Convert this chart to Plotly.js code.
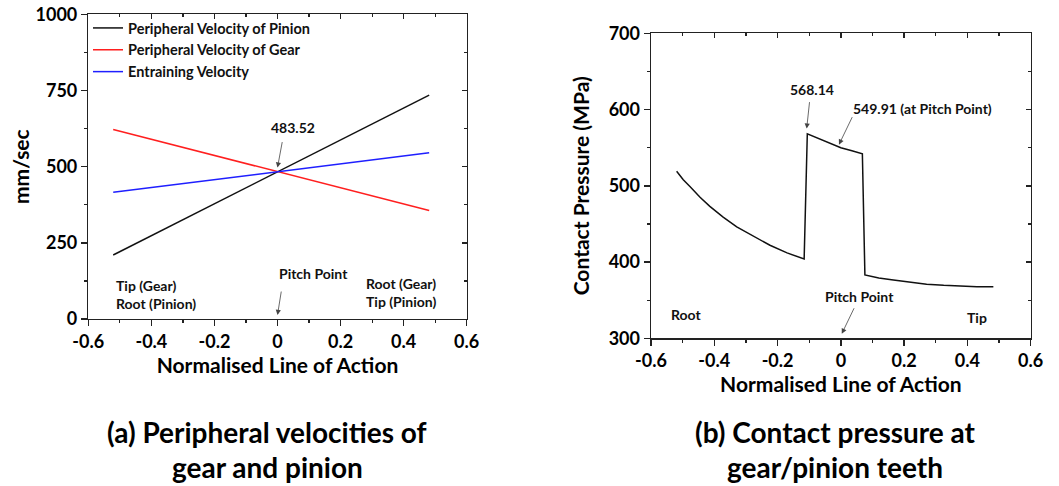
<!DOCTYPE html>
<html>
<head>
<meta charset="utf-8">
<script src="https://cdn.plot.ly/plotly-3.0.1.min.js"></script>
<style>html,body{margin:0;padding:0;background:#fff;}#chart{width:1059px;height:486px;}</style>
</head>
<body>
<div id="chart"></div>
<script>
// ---- Data: (a) peripheral velocities ----
const lineOfAction = [-0.521, 0, 0.481];
const pinionVelocity = [210, 483.52, 735];
const gearVelocity = [622, 483.52, 356];
const entrainingVelocity = [416, 483.52, 545.5];

// ---- Data: (b) contact pressure ----
const pressureX = [-0.519, -0.498, -0.477, -0.445, -0.414, -0.372, -0.329, -0.277, -0.224, -0.170, -0.119, -0.116, -0.106, -0.05, 0, 0.035, 0.068, 0.076, 0.12, 0.166, 0.22, 0.271, 0.325, 0.377, 0.43, 0.482];
const pressureY = [519, 508, 499, 485, 473, 459, 446, 434, 422, 412, 405, 404, 568.14, 558, 549.91, 546, 542, 383, 379, 376.5, 373.5, 371, 369.5, 368.5, 367.7, 367.5];

// ---- Tick labels ----
const xTickVals = [-0.6, -0.4, -0.2, 0, 0.2, 0.4, 0.6];
const xTickText = ["-0.6", "-0.4", "-0.2", "0", "0.2", "0.4", "0.6"];
const yTickValsA = [0, 250, 500, 750, 1000];
const yTickTextA = ["0", "250", "500", "750", "1000"];
const yTickValsB = [300, 400, 500, 600, 700];
const yTickTextB = ["300", "400", "500", "600", "700"];

const FONT = "Lato, 'Open Sans', sans-serif";
const W = 1059, H = 486;
const px = v => v / W;
const py = v => 1 - v / H;

const axisCommon = {
  showline: true, linecolor: '#222', linewidth: 1.4, mirror: false,
  showgrid: false, zeroline: false, tickcolor: '#222', tickwidth: 1.4,
  tickfont: {family: FONT, size: 18, color: '#000', weight: 700}
};

const traces = [
  {x: lineOfAction, y: pinionVelocity, type: 'scatter', mode: 'lines', name: 'Peripheral Velocity of Pinion',
   line: {color: '#111', width: 1.5}, xaxis: 'x', yaxis: 'y'},
  {x: lineOfAction, y: gearVelocity, type: 'scatter', mode: 'lines', name: 'Peripheral Velocity of Gear',
   line: {color: '#ff1f1f', width: 1.5}, xaxis: 'x', yaxis: 'y'},
  {x: lineOfAction, y: entrainingVelocity, type: 'scatter', mode: 'lines', name: 'Entraining Velocity',
   line: {color: '#1f1fff', width: 1.5}, xaxis: 'x', yaxis: 'y'},
  {x: pressureX, y: pressureY, type: 'scatter', mode: 'lines', name: 'Contact Pressure', showlegend: false,
   line: {color: '#111', width: 1.5}, xaxis: 'x3', yaxis: 'y3'},
  // empty traces so the mirrored (top/right) frame axes get drawn
  {x: [], y: [], type: 'scatter', mode: 'lines', showlegend: false, hoverinfo: 'skip', xaxis: 'x2', yaxis: 'y2'},
  {x: [], y: [], type: 'scatter', mode: 'lines', showlegend: false, hoverinfo: 'skip', xaxis: 'x4', yaxis: 'y4'}
];

const xDomA = [px(88.3), px(466.7)];
const yDomA = [py(319), py(14.3)];
const xDomB = [px(651), px(1030.7)];
const yDomB = [py(338.3), py(33.3)];

function mainX(domain, anchor, standoff) {
  return Object.assign({}, axisCommon, {
    domain: domain, anchor: anchor, range: [-0.6, 0.6], ticks: 'outside', ticklen: 6,
    tickvals: xTickVals, ticktext: xTickText,
    minor: {ticks: 'outside', dtick: 0.1, tick0: 0, ticklen: 3, tickcolor: '#222', tickwidth: 1.2},
    title: {text: 'Normalised Line of Action', font: {family: FONT, size: 21, color: '#000', weight: 700}, standoff: standoff}
  });
}
function topX(over, anchor) {
  return Object.assign({}, axisCommon, {
    overlaying: over, anchor: anchor, side: 'top', range: [-0.6, 0.6], ticks: 'inside', ticklen: 5,
    tickvals: xTickVals, showticklabels: false,
    minor: {ticks: 'inside', dtick: 0.1, tick0: 0, ticklen: 3, tickcolor: '#222', tickwidth: 1.2}
  });
}
function mainY(domain, anchor, range, vals, text, minorD, title, standoff) {
  return Object.assign({}, axisCommon, {
    domain: domain, anchor: anchor, range: range, ticks: 'outside', ticklen: 6,
    tickvals: vals, ticktext: text,
    minor: {ticks: 'outside', dtick: minorD, tick0: range[0], ticklen: 3, tickcolor: '#222', tickwidth: 1.2},
    title: {text: title, font: {family: FONT, size: 21, color: '#000', weight: 700}, standoff: standoff}
  });
}
function rightY(over, anchor, range, vals, minorD) {
  return Object.assign({}, axisCommon, {
    overlaying: over, anchor: anchor, side: 'right', range: range, ticks: 'inside', ticklen: 5,
    tickvals: vals, showticklabels: false,
    minor: {ticks: 'inside', dtick: minorD, tick0: range[0], ticklen: 3, tickcolor: '#222', tickwidth: 1.2}
  });
}

const annFont = {family: FONT, size: 14, color: '#111', weight: 700};
function txt(xref, yref, x, y, text, extra) {
  return Object.assign({xref: xref, yref: yref, x: x, y: y, text: text, showarrow: false, font: annFont,
                        xanchor: 'center', yanchor: 'middle'}, extra || {});
}
function arrow(xref, yref, x, y, ax, ay) {
  return {xref: xref, yref: yref, x: x, y: y, ax: ax, ay: ay, text: '', showarrow: true,
          arrowhead: 2, arrowsize: 1.3, arrowwidth: 0.8, arrowcolor: '#444', standoff: 0, startstandoff: 0};
}
const capFont = {family: FONT, size: 28, color: '#000', weight: 700};

const annotations = [
  txt('x', 'y', 0.049, 627, '483.52'),
  arrow('x', 'y', 0, 497, 5, -27),
  txt('x', 'y', 0.113, 148, 'Pitch Point'),
  arrow('x', 'y', 0, 13, 4, -25),
  txt('x', 'y', -0.5185, 82, 'Tip (Gear)<br>Root (Pinion)', {xanchor: 'left', align: 'left'}),
  txt('x', 'y', 0.2745, 87, 'Root (Gear)<br>Tip (Pinion)', {xanchor: 'left', align: 'left'}),

  txt('x3', 'y3', -0.092, 626, '568.14'),
  arrow('x3', 'y3', -0.108, 575, 3, -28),
  txt('x3', 'y3', 0.2565, 602, '549.91 (at Pitch Point)'),
  arrow('x3', 'y3', -0.006, 554, 14, -29),
  txt('x3', 'y3', 0.0605, 355, 'Pitch Point'),
  arrow('x3', 'y3', 0.003, 306, 13, -27),
  txt('x3', 'y3', -0.490, 331, 'Root'),
  txt('x3', 'y3', 0.429, 327, 'Tip'),

  txt('paper', 'paper', px(267), py(432), '(a) Peripheral velocities of', {font: capFont}),
  txt('paper', 'paper', px(267), py(467), 'gear and pinion', {font: capFont}),
  txt('paper', 'paper', px(835), py(432), '(b) Contact pressure at', {font: capFont}),
  txt('paper', 'paper', px(835), py(467), 'gear/pinion teeth', {font: capFont})
];

const layout = {
  width: W, height: H,
  margin: {l: 0, r: 0, t: 0, b: 0},
  paper_bgcolor: '#fff', plot_bgcolor: '#fff',
  font: {family: FONT, color: '#000'},
  showlegend: true,
  legend: {x: px(88), y: py(12), xanchor: 'left', yanchor: 'top', bgcolor: 'rgba(0,0,0,0)',
           font: {family: FONT, size: 14.5, color: '#111', weight: 700}, tracegroupgap: 0},
  xaxis: mainX(xDomA, 'y', 3),
  yaxis: mainY(yDomA, 'x', [0, 1000], yTickValsA, yTickTextA, 125, 'mm/sec', 0),
  xaxis2: topX('x', 'y'),
  yaxis2: rightY('y', 'x', [0, 1000], yTickValsA, 125),
  xaxis3: mainX(xDomB, 'y3', 0),
  yaxis3: mainY(yDomB, 'x3', [300, 700], yTickValsB, yTickTextB, 50, 'Contact Pressure (MPa)', 13),
  xaxis4: topX('x3', 'y3'),
  yaxis4: rightY('y3', 'x3', [300, 700], yTickValsB, 50),
  annotations: annotations
};

Plotly.newPlot('chart', traces, layout, {displayModeBar: false, staticPlot: true});
</script>
</body>
</html>
